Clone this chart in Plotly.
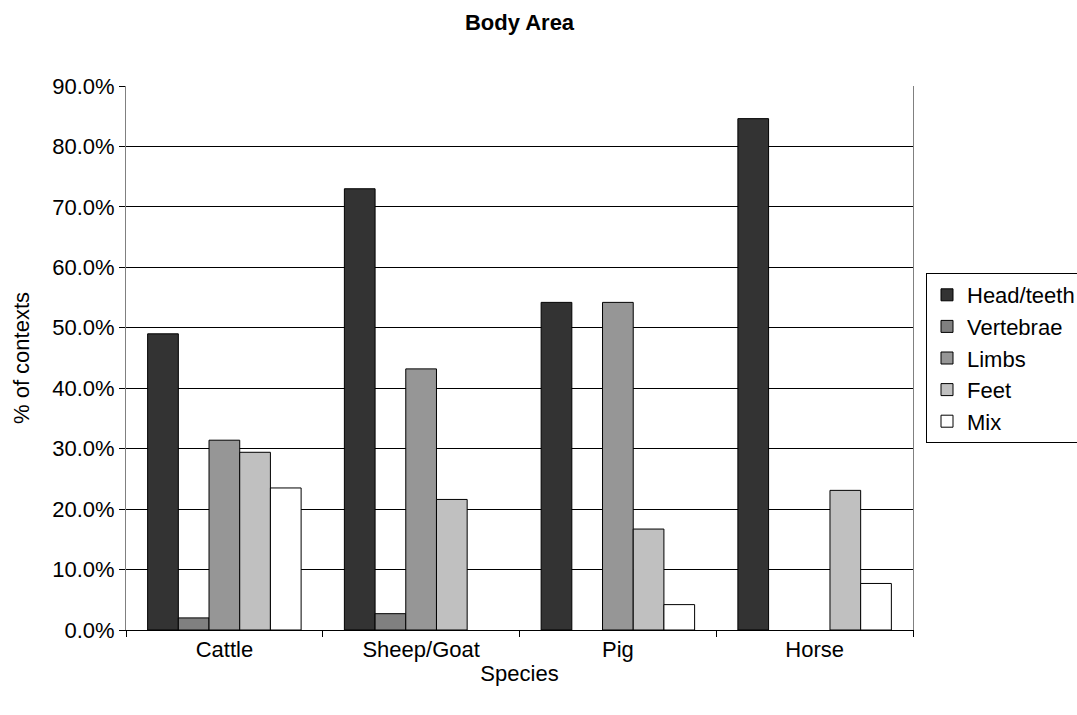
import plotly.graph_objects as go

# Share of contexts by body area for each species
species = ["Cattle", "Sheep/Goat", "Pig", "Horse"]
head_teeth = [0.490, 0.730, 0.542, 0.846]
vertebrae = [0.020, 0.027, 0.0, 0.0]
limbs = [0.314, 0.432, 0.542, 0.0]
feet = [0.294, 0.216, 0.167, 0.231]
mix = [0.235, 0.0, 0.042, 0.077]

series_names = ["Head/teeth", "Vertebrae", "Limbs", "Feet", "Mix"]
series_values = [head_teeth, vertebrae, limbs, feet, mix]
series_colors = ["#333333", "#808080", "#969696", "#C0C0C0", "#FFFFFF"]

font_family = "Liberation Sans, Arial, sans-serif"
FS = 22
W, H = 1077, 715

fig = go.Figure()
for name, vals, col in zip(series_names, series_values, series_colors):
    # empty categories get no outline so nothing shows on the baseline
    widths = [1 if v > 0 else 0 for v in vals]
    fig.add_trace(go.Bar(
        x=species, y=vals, name=name,
        marker=dict(color=col, line=dict(color="#000000", width=widths)),
    ))

fig.update_layout(
    width=W, height=H,
    barmode="group", bargap=0.22, bargroupgap=0,
    paper_bgcolor="white", plot_bgcolor="white",
    margin=dict(l=126, r=146, t=86, b=85),
    font=dict(family=font_family, size=FS, color="black"),
    title=dict(text="<b>Body Area</b>", x=0.5, xref="paper", y=1 - 22 / H,
               yref="container", yanchor="middle",
               font=dict(family=font_family, size=FS, color="black")),
    legend=dict(xref="container", x=926 / W, xanchor="left",
                yref="paper", y=0.5, yanchor="middle",
                bordercolor="black", borderwidth=1, bgcolor="white",
                font=dict(family=font_family, size=FS, color="black"),
                itemwidth=30, tracegroupgap=0),
    showlegend=True,
)

fig.update_xaxes(
    showline=True, linecolor="black", linewidth=1,
    ticks="outside", tickson="boundaries", ticklen=6, tickcolor="black",
    showgrid=False,
    title=dict(text="Species", font=dict(size=FS), standoff=4),
    tickfont=dict(size=FS),
)
fig.update_yaxes(
    range=[0, 0.9], dtick=0.1, tickformat=".1%",
    showline=True, linecolor="#808080", linewidth=1, mirror=True,
    ticks="outside", ticklen=6, tickcolor="black",
    showgrid=True, gridcolor="black", gridwidth=1,
    zeroline=False,
    title=dict(text="% of contexts", font=dict(size=FS), standoff=16),
    tickfont=dict(size=FS),
)

fig.write_html("out.html")
